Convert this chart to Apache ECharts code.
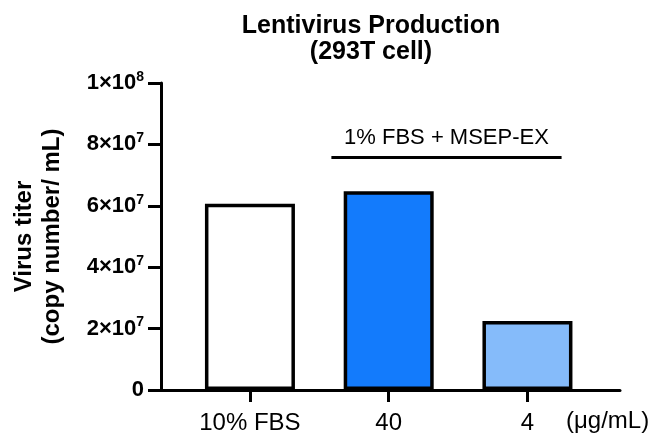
<!DOCTYPE html>
<html>
<head>
<meta charset="utf-8">
<script src="https://cdn.jsdelivr.net/npm/echarts@6/dist/echarts.min.js"></script>
<style>html,body{margin:0;padding:0;background:#fff}#c{width:656px;height:444px}</style>
</head>
<body>
<div id="c"></div>
<script>
var categories = ['10% FBS', '40', '4'];
var titerValues = [6.07e7, 6.47e7, 2.25e7];
var barColors = ['#ffffff', '#137BFC', '#85BBFA'];
var yTickMantissa = ['0', '2', '4', '6', '8', '1'];
var yTickExponent = ['', '7', '7', '7', '7', '8'];
var groupLabel = '1% FBS + MSEP-EX';
var unitLabel = '(\u03bcg/mL)';

var FONT = '"Liberation Sans", Arial, Helvetica, sans-serif';
var chart = echarts.init(document.getElementById('c'), null, {renderer: 'canvas'});

function fmtY(v) {
  var i = Math.round(v / 2e7);
  if (!yTickExponent[i]) return '{b|' + yTickMantissa[i] + '}';
  return '{b|' + yTickMantissa[i] + '\u00d710}{s|' + yTickExponent[i] + '}';
}

var option = {
  backgroundColor: '#fff',
  animation: false,
  title: {
    text: 'Lentivirus Production\n(293T cell)',
    left: 366,
    top: 8,
    textAlign: 'center',
    textStyle: {fontFamily: FONT, fontSize: 25, fontWeight: 'bold', color: '#000', lineHeight: 26}
  },
  grid: {left: 161, right: 36, top: 83, bottom: 54, outerBoundsMode: 'none'},
  xAxis: {
    type: 'value',
    min: -0.641,
    max: 2.667,
    splitLine: {show: false},
    axisLine: {show: true, onZero: false, lineStyle: {color: '#000', width: 3}},
    axisTick: {show: true, length: 12, lineStyle: {color: '#000', width: 3}, customValues: [0, 1, 2]},
    axisLabel: {
      customValues: [0, 1, 2],
      margin: 21,
      fontFamily: FONT, fontSize: 24, color: '#000',
      formatter: function (v) { return categories[Math.round(v)]; }
    }
  },
  yAxis: {
    type: 'value',
    min: 0,
    max: 1e8,
    interval: 2e7,
    splitLine: {show: false},
    axisLine: {show: true, onZero: false, lineStyle: {color: '#000', width: 3}},
    axisTick: {show: true, length: 13, lineStyle: {color: '#000', width: 3}},
    axisLabel: {
      margin: 17,
      formatter: fmtY,
      rich: {
        b: {fontFamily: FONT, fontSize: 22, fontWeight: 'bold', color: '#000', lineHeight: 26},
        s: {fontFamily: FONT, fontSize: 14, fontWeight: 'bold', color: '#000', lineHeight: 14, verticalAlign: 'top'}
      }
    },
    name: 'Virus titer\n(copy number/ mL)',
    nameLocation: 'middle',
    nameRotate: 90,
    nameGap: 95,
    nameTextStyle: {fontFamily: FONT, fontSize: 24, fontWeight: 'bold', color: '#000', lineHeight: 28}
  },
  series: [{
    type: 'bar',
    barWidth: 90,
    data: titerValues.map(function (v, i) {
      return {value: [i, v], itemStyle: {color: barColors[i], borderColor: '#000', borderWidth: 3.5}};
    }),
    markLine: {
      silent: true,
      symbol: 'none',
      lineStyle: {color: '#000', width: 3, type: 'solid'},
      label: {show: true, position: 'middle', distance: 8, formatter: groupLabel,
        fontFamily: FONT, fontSize: 22, color: '#000'},
      data: [[{coord: [0.587, 7.58e7]}, {coord: [2.246, 7.58e7]}]]
    }
  }],
  graphic: [{
    type: 'text',
    left: 566,
    top: 409,
    style: {text: unitLabel, fontFamily: FONT, fontSize: 24, fill: '#000'}
  }]
};
chart.setOption(option);
</script>
</body>
</html>
